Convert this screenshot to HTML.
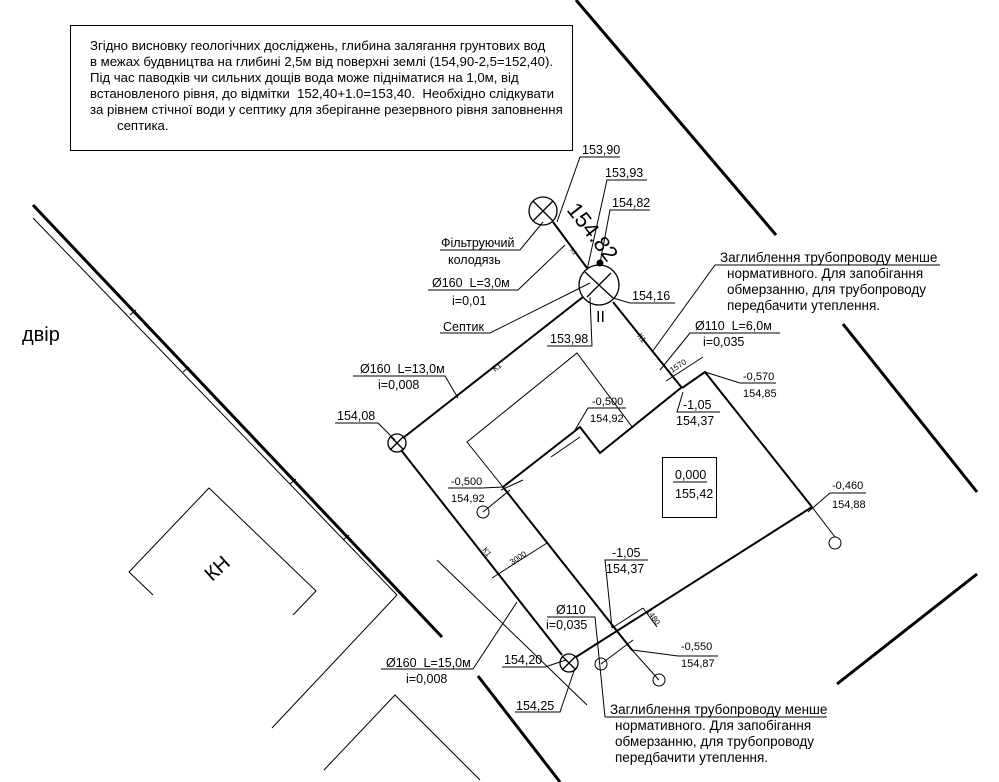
<!DOCTYPE html>
<html><head><meta charset="utf-8"><style>
html,body{margin:0;padding:0;background:#fff;}
svg{display:block;}
text{font-family:"Liberation Sans",sans-serif;fill:#000;white-space:pre;}
</style></head><body>
<svg width="999" height="782" viewBox="0 0 999 782" xmlns="http://www.w3.org/2000/svg" xml:space="preserve">
<g stroke="#000" fill="none">
<rect x="70.5" y="25.5" width="502" height="125" stroke-width="1"/>
<line x1="33" y1="205" x2="442" y2="637" stroke-width="3"/>
<line x1="478" y1="676" x2="560" y2="782" stroke-width="3"/>
<line x1="576" y1="0" x2="776" y2="235" stroke-width="3"/>
<line x1="843" y1="324" x2="977" y2="492" stroke-width="3"/>
<line x1="977" y1="574" x2="837" y2="684" stroke-width="3"/>
<g stroke-width="1">
<line x1="33" y1="218" x2="397" y2="595"/>
<line x1="130" y1="315" x2="136" y2="310"/>
<line x1="183" y1="372" x2="189" y2="367"/>
<line x1="290" y1="484" x2="296" y2="479"/>
<line x1="343" y1="540" x2="349" y2="535"/>
<line x1="397" y1="595" x2="272" y2="728"/>
<polyline points="153,595 129,572 209,488 316,591 293,615"/>
<polyline points="324,770 395,695 480,780"/>
<line x1="437" y1="560" x2="587" y2="705"/>
<polyline points="503,487 467,442 577,353 633,428"/>
<line x1="551" y1="457" x2="580" y2="437"/>
<line x1="501" y1="490" x2="523" y2="480"/>
<line x1="812" y1="507" x2="835" y2="537"/>
<rect x="662.5" y="457.5" width="54" height="60"/>
</g>
<g stroke-width="2">
<line x1="553" y1="222" x2="587" y2="268"/>
<line x1="583" y1="297" x2="403" y2="438"/>
<line x1="401" y1="450" x2="562" y2="655"/>
<line x1="613" y1="302" x2="682" y2="388"/>
<polyline points="682,388 705,372 812,507"/>
<polyline points="503,487 580,427 600,453 682,387"/>
<line x1="503" y1="487" x2="632" y2="650"/>
<line x1="576" y1="657" x2="812" y2="507"/>
</g>
<g stroke-width="1.3">
<circle cx="599" cy="285" r="20"/>
<line x1="585" y1="272" x2="613" y2="298"/><line x1="587" y1="297" x2="611" y2="273"/>
<circle cx="543" cy="211" r="14"/>
<line x1="533" y1="201" x2="553" y2="221"/><line x1="533" y1="221" x2="553" y2="201"/>
<circle cx="397" cy="443" r="9"/>
<line x1="390" y1="436" x2="404" y2="450"/><line x1="390" y1="450" x2="404" y2="436"/>
<circle cx="569" cy="663" r="9"/>
<line x1="562" y1="656" x2="576" y2="670"/><line x1="562" y1="670" x2="576" y2="656"/>
</g>
<g stroke-width="1">
<circle cx="483" cy="512" r="6"/><circle cx="601" cy="664" r="6"/><circle cx="659" cy="680" r="6"/><circle cx="835" cy="543" r="6"/>
<polyline points="557,222 580,157 620,157"/>
<polyline points="587,270 607,180 647,180"/>
<polyline points="600,263 610,210 650,210"/>
<polyline points="543,222 520,250 440,250"/>
<polyline points="565,245 518,290 428,290"/>
<polyline points="590,283 490,333 440,333"/>
<polyline points="613,298 630,303 675,303"/>
<polyline points="590,297 592,346 547,346"/>
<polyline points="458,398 445,376 353,376"/>
<polyline points="395,440 378,423 335,423"/>
<polyline points="652,352 715,265 940,265"/>
<polyline points="660,370 690,333 780,333"/>
<polyline points="705,372 740,383 776,383"/>
<polyline points="683,392 677,412 720,412"/>
<polyline points="575,430 588,408 626,408"/>
<polyline points="808,512 830,493 866,493"/>
<polyline points="503,487 482,488 448,488"/>
<line x1="483" y1="512" x2="510" y2="490"/>
<polyline points="612,628 605,560 648,560"/>
<polyline points="605,717 595,617 547,617"/>
<line x1="605" y1="717" x2="827" y2="717"/>
<polyline points="632,650 678,656 718,656"/>
<line x1="632" y1="650" x2="659" y2="680"/>
<line x1="601" y1="664" x2="633" y2="640"/>
<polyline points="517,602 473,669 381,669"/>
<polyline points="566,660 545,667 502,667"/>
<polyline points="575,668 560,712 515,712"/>
<line x1="673" y1="482" x2="707" y2="482"/>
<line x1="492" y1="578" x2="547" y2="543"/>
<line x1="666" y1="381" x2="703" y2="357"/>
<line x1="612" y1="628" x2="643" y2="608"/><line x1="643" y1="608" x2="657" y2="627"/>
</g>
<circle cx="600" cy="263" r="3" fill="#000"/>
</g>
<g font-size="13.2">
<text x="90" y="50">Згідно висновку геологічних досліджень, глибина залягання грунтових вод</text>
<text x="90" y="66">в межах будвництва на глибині 2,5м від поверхні землі (154,90-2,5=152,40).</text>
<text x="90" y="82">Під час паводків чи сильних дощів вода може підніматися на 1,0м, від</text>
<text x="90" y="98">встановленого рівня, до відмітки  152,40+1.0=153,40.  Необхідно слідкувати</text>
<text x="90" y="114">за рівнем стічної води у септику для зберіганне резервного рівня заповнення</text>
<text x="117" y="130">септика.</text>
</g>
<g font-size="13.5">
<text x="720" y="262">Заглиблення трубопроводу менше</text>
<text x="727" y="278">нормативного. Для запобігання</text>
<text x="727" y="294">обмерзанню, для трубопроводу</text>
<text x="727" y="310">передбачити утеплення.</text>
<text x="610" y="714">Заглиблення трубопроводу менше</text>
<text x="615" y="730">нормативного. Для запобігання</text>
<text x="615" y="746">обмерзанню, для трубопроводу</text>
<text x="615" y="762">передбачити утеплення.</text>
</g>
<g font-size="12.5">
<text x="582" y="154">153,90</text>
<text x="605" y="177">153,93</text>
<text x="612" y="207">154,82</text>
<text x="441" y="247">Фільтруючий</text>
<text x="448" y="264">колодязь</text>
<text x="432" y="287">Ø160  L=3,0м</text>
<text x="452" y="305">i=0,01</text>
<text x="443" y="331">Септик</text>
<text x="632" y="300">154,16</text>
<text x="550" y="343">153,98</text>
<text x="360" y="373">Ø160  L=13,0м</text>
<text x="378" y="389">i=0,008</text>
<text x="337" y="420">154,08</text>
<text x="695" y="330">Ø110  L=6,0м</text>
<text x="703" y="346">i=0,035</text>
<text x="683" y="409">-1,05</text>
<text x="676" y="425">154,37</text>
<text x="675" y="479">0,000</text>
<text x="675" y="498">155,42</text>
<text x="612" y="557">-1,05</text>
<text x="606" y="573">154,37</text>
<text x="556" y="614">Ø110</text>
<text x="546" y="629">i=0,035</text>
<text x="386" y="667">Ø160  L=15,0м</text>
<text x="406" y="683">i=0,008</text>
<text x="504" y="664">154,20</text>
<text x="516" y="710">154,25</text>
</g>
<g font-size="11">
<text x="743" y="380">-0,570</text>
<text x="743" y="397">154,85</text>
<text x="592" y="405">-0,500</text>
<text x="590" y="422">154,92</text>
<text x="832" y="489">-0,460</text>
<text x="832" y="508">154,88</text>
<text x="451" y="485">-0,500</text>
<text x="451" y="502">154,92</text>
<text x="681" y="650">-0,550</text>
<text x="681" y="667">154,87</text>
</g>
<g font-size="8">
<text transform="translate(512,565) rotate(-33)">3000</text>
<text transform="translate(672,373) rotate(-33)">1570</text>
<text transform="translate(646,611) rotate(55)">1480</text>
<text transform="translate(495,372) rotate(-38)">К1</text>
<text transform="translate(637,336) rotate(52)">К1</text>
<text transform="translate(482,550) rotate(52)">К1</text>
<text transform="translate(570,250) rotate(52)" font-size="6">К1</text>
</g>
<text transform="translate(566,210) rotate(52)" font-size="22">154.82</text>
<text x="596" y="322" font-size="16">II</text>
<text x="22" y="341" font-size="20">двір</text>
<text transform="translate(212,582) rotate(-42)" font-size="20">КН</text>
</svg>
</body></html>
